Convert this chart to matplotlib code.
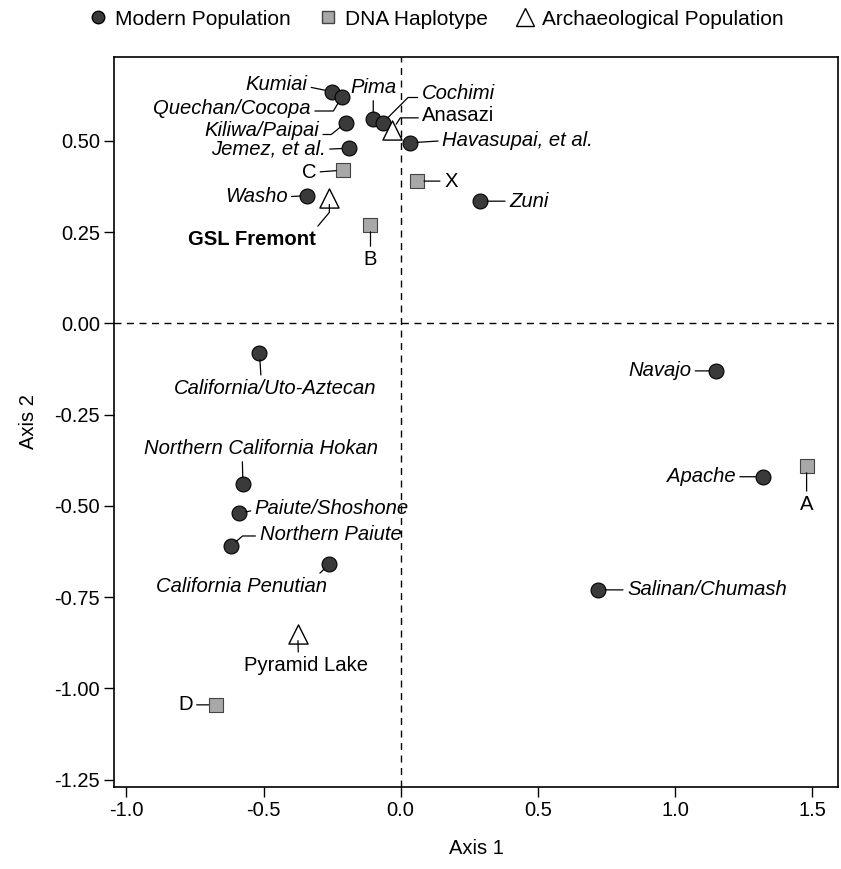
import matplotlib
matplotlib.use("Agg")
import matplotlib.pyplot as plt
from matplotlib.lines import Line2D

plt.rcParams['font.family'] = ['Liberation Sans', 'DejaVu Sans']

# ---- data ----
modern_names = ["Kumiai", "Quechan/Cocopa", "Kiliwa/Paipai", "Jemez, et al.", "Washo",
                "Pima", "Cochimi", "Havasupai, et al.", "Zuni",
                "California/Uto-Aztecan", "Northern California Hokan", "Paiute/Shoshone",
                "Northern Paiute", "California Penutian", "Navajo", "Apache", "Salinan/Chumash"]
modern_x = [-0.25, -0.215, -0.20, -0.19, -0.34, -0.10, -0.065, 0.035, 0.29,
            -0.515, -0.575, -0.59, -0.62, -0.26, 1.15, 1.32, 0.72]
modern_y = [0.635, 0.62, 0.55, 0.48, 0.35, 0.56, 0.55, 0.495, 0.335,
            -0.08, -0.44, -0.52, -0.61, -0.66, -0.13, -0.42, -0.73]

dna_names = ["C", "B", "X", "A", "D"]
dna_x = [-0.21, -0.11, 0.06, 1.48, -0.675]
dna_y = [0.42, 0.27, 0.39, -0.39, -1.045]

arch_names = ["GSL Fremont", "Anasazi", "Pyramid Lake"]
arch_x = [-0.26, -0.03, -0.375]
arch_y = [0.345, 0.53, -0.85]

x_ticks = [-1.0, -0.5, 0.0, 0.5, 1.0, 1.5]
y_ticks = [-1.25, -1.00, -0.75, -0.50, -0.25, 0.00, 0.25, 0.50]

# ---- label layout: offset (pixels), ha, relpos, connection angles ----
layout = {
    "Kumiai": ((-25, 7), 'right', (1, 0.4), None),
    "Quechan/Cocopa": ((-31, -11), 'right', (1, 0.35), (0, 59)),
    "Kiliwa/Paipai": ((-27, -8), 'right', (1, 0.3), (0, 39)),
    "Jemez, et al.": ((-23, -1), 'right', (1, 0.5), None),
    "Washo": ((-20, -1), 'right', (1, 0.5), None),
    "Pima": ((0, 32), 'center', (0.5, 0.1), None),
    "Cochimi": ((39, 29), 'left', (0, 0.3), (0, 45)),
    "Havasupai, et al.": ((32, 2), 'left', (0, 0.5), None),
    "Zuni": ((29, 0), 'left', (0, 0.5), None),
    "California/Uto-Aztecan": ((16, -36), 'center', (0.43, 0.95), None),
    "Northern California Hokan": ((18, 36), 'center', (0.42, 0.05), None),
    "Paiute/Shoshone": ((16, 5), 'left', (0, 0.4), None),
    "Northern Paiute": ((29, 12), 'left', (0, 0.4), (0, 40)),
    "California Penutian": ((-88, -22), 'center', (0.93, 0.95), None),
    "Navajo": ((-25, 0), 'right', (1, 0.5), None),
    "Apache": ((-27, 0), 'right', (1, 0.5), None),
    "Salinan/Chumash": ((29, 0), 'left', (0, 0.5), None),
    "C": ((-27, -2), 'right', (1, 0.5), None),
    "B": ((0, -35), 'center', (0.5, 0.95), None),
    "X": ((27, 0), 'left', (0, 0.5), None),
    "A": ((0, -39), 'center', (0.5, 0.95), None),
    "D": ((-23, 0), 'right', (1, 0.5), None),
    "GSL Fremont": ((-13, -42), 'right', (0.98, 0.95), (50, 90)),
    "Anasazi": ((30, 15), 'left', (0, 0.35), (0, 57)),
    "Pyramid Lake": ((8, -32), 'center', (0.44, 0.95), None),
}

fig = plt.figure(figsize=(8.41, 8.69), dpi=100)
ax = fig.add_axes([0.1356, 0.0944, 0.861, 0.840])

ax.set_xlim(-1.045, 1.595)
ax.set_ylim(-1.27, 0.73)

ax.axhline(0, color='black', lw=1.0, ls=(0, (5, 4)), zorder=1)
ax.axvline(0, color='black', lw=1.0, ls=(0, (5, 4)), zorder=1)

ax.scatter(modern_x, modern_y, s=115, marker='o', facecolor='#3a3a3a',
           edgecolor='black', linewidth=0.8, zorder=3)
ax.scatter(dna_x, dna_y, s=105, marker='s', facecolor='#a8a8a8',
           edgecolor='#444444', linewidth=0.8, zorder=3)
ax.scatter(arch_x, arch_y, s=190, marker='^', facecolor='white',
           edgecolor='black', linewidth=1.0, zorder=3)


def label(name, x, y, style, weight):
    (ox, oy), ha, relpos, conn = layout[name]
    cs = "arc3,rad=0" if conn is None else f"angle,angleA={conn[0]},angleB={conn[1]},rad=0"
    ax.annotate(name, xy=(x, y), xytext=(ox, oy), textcoords='offset pixels',
                ha=ha, va='center', fontsize=14.6, fontstyle=style, fontweight=weight,
                arrowprops=dict(arrowstyle='-', color='black', lw=0.9,
                                relpos=relpos, shrinkA=1, shrinkB=5,
                                connectionstyle=cs),
                zorder=4)


for n, x, y in zip(modern_names, modern_x, modern_y):
    label(n, x, y, 'italic', 'normal')
for n, x, y in zip(dna_names, dna_x, dna_y):
    label(n, x, y, 'normal', 'normal')
for n, x, y in zip(arch_names, arch_x, arch_y):
    label(n, x, y, 'normal', 'bold' if n == "GSL Fremont" else 'normal')

ax.set_xticks(x_ticks)
ax.set_xticklabels([f"{v:.1f}" for v in x_ticks])
ax.set_yticks(y_ticks)
ax.set_yticklabels([f"{v:.2f}" for v in y_ticks])
ax.tick_params(direction='out', length=7, width=1, labelsize=14.5, pad=3)
for s in ax.spines.values():
    s.set_linewidth(1.2)

ax.set_xlabel("Axis 1", fontsize=14.5, labelpad=14)
ax.set_ylabel("Axis 2", fontsize=14.5, labelpad=12)

handles = [
    Line2D([], [], ls='none', marker='o', markersize=9, markerfacecolor='#3a3a3a',
           markeredgecolor='black'),
    Line2D([], [], ls='none', marker='s', markersize=9, markerfacecolor='#a8a8a8',
           markeredgecolor='#444444'),
    Line2D([], [], ls='none', marker='^', markersize=13, markerfacecolor='white',
           markeredgecolor='black'),
]
fig.legend(handles, ["Modern Population", "DNA Haplotype", "Archaeological Population"],
           loc='center', bbox_to_anchor=(0.518, 0.978), ncol=3, frameon=False,
           fontsize=15, handletextpad=0.3, columnspacing=1.3, handlelength=1.0)

fig.savefig("out.png", dpi=100)
